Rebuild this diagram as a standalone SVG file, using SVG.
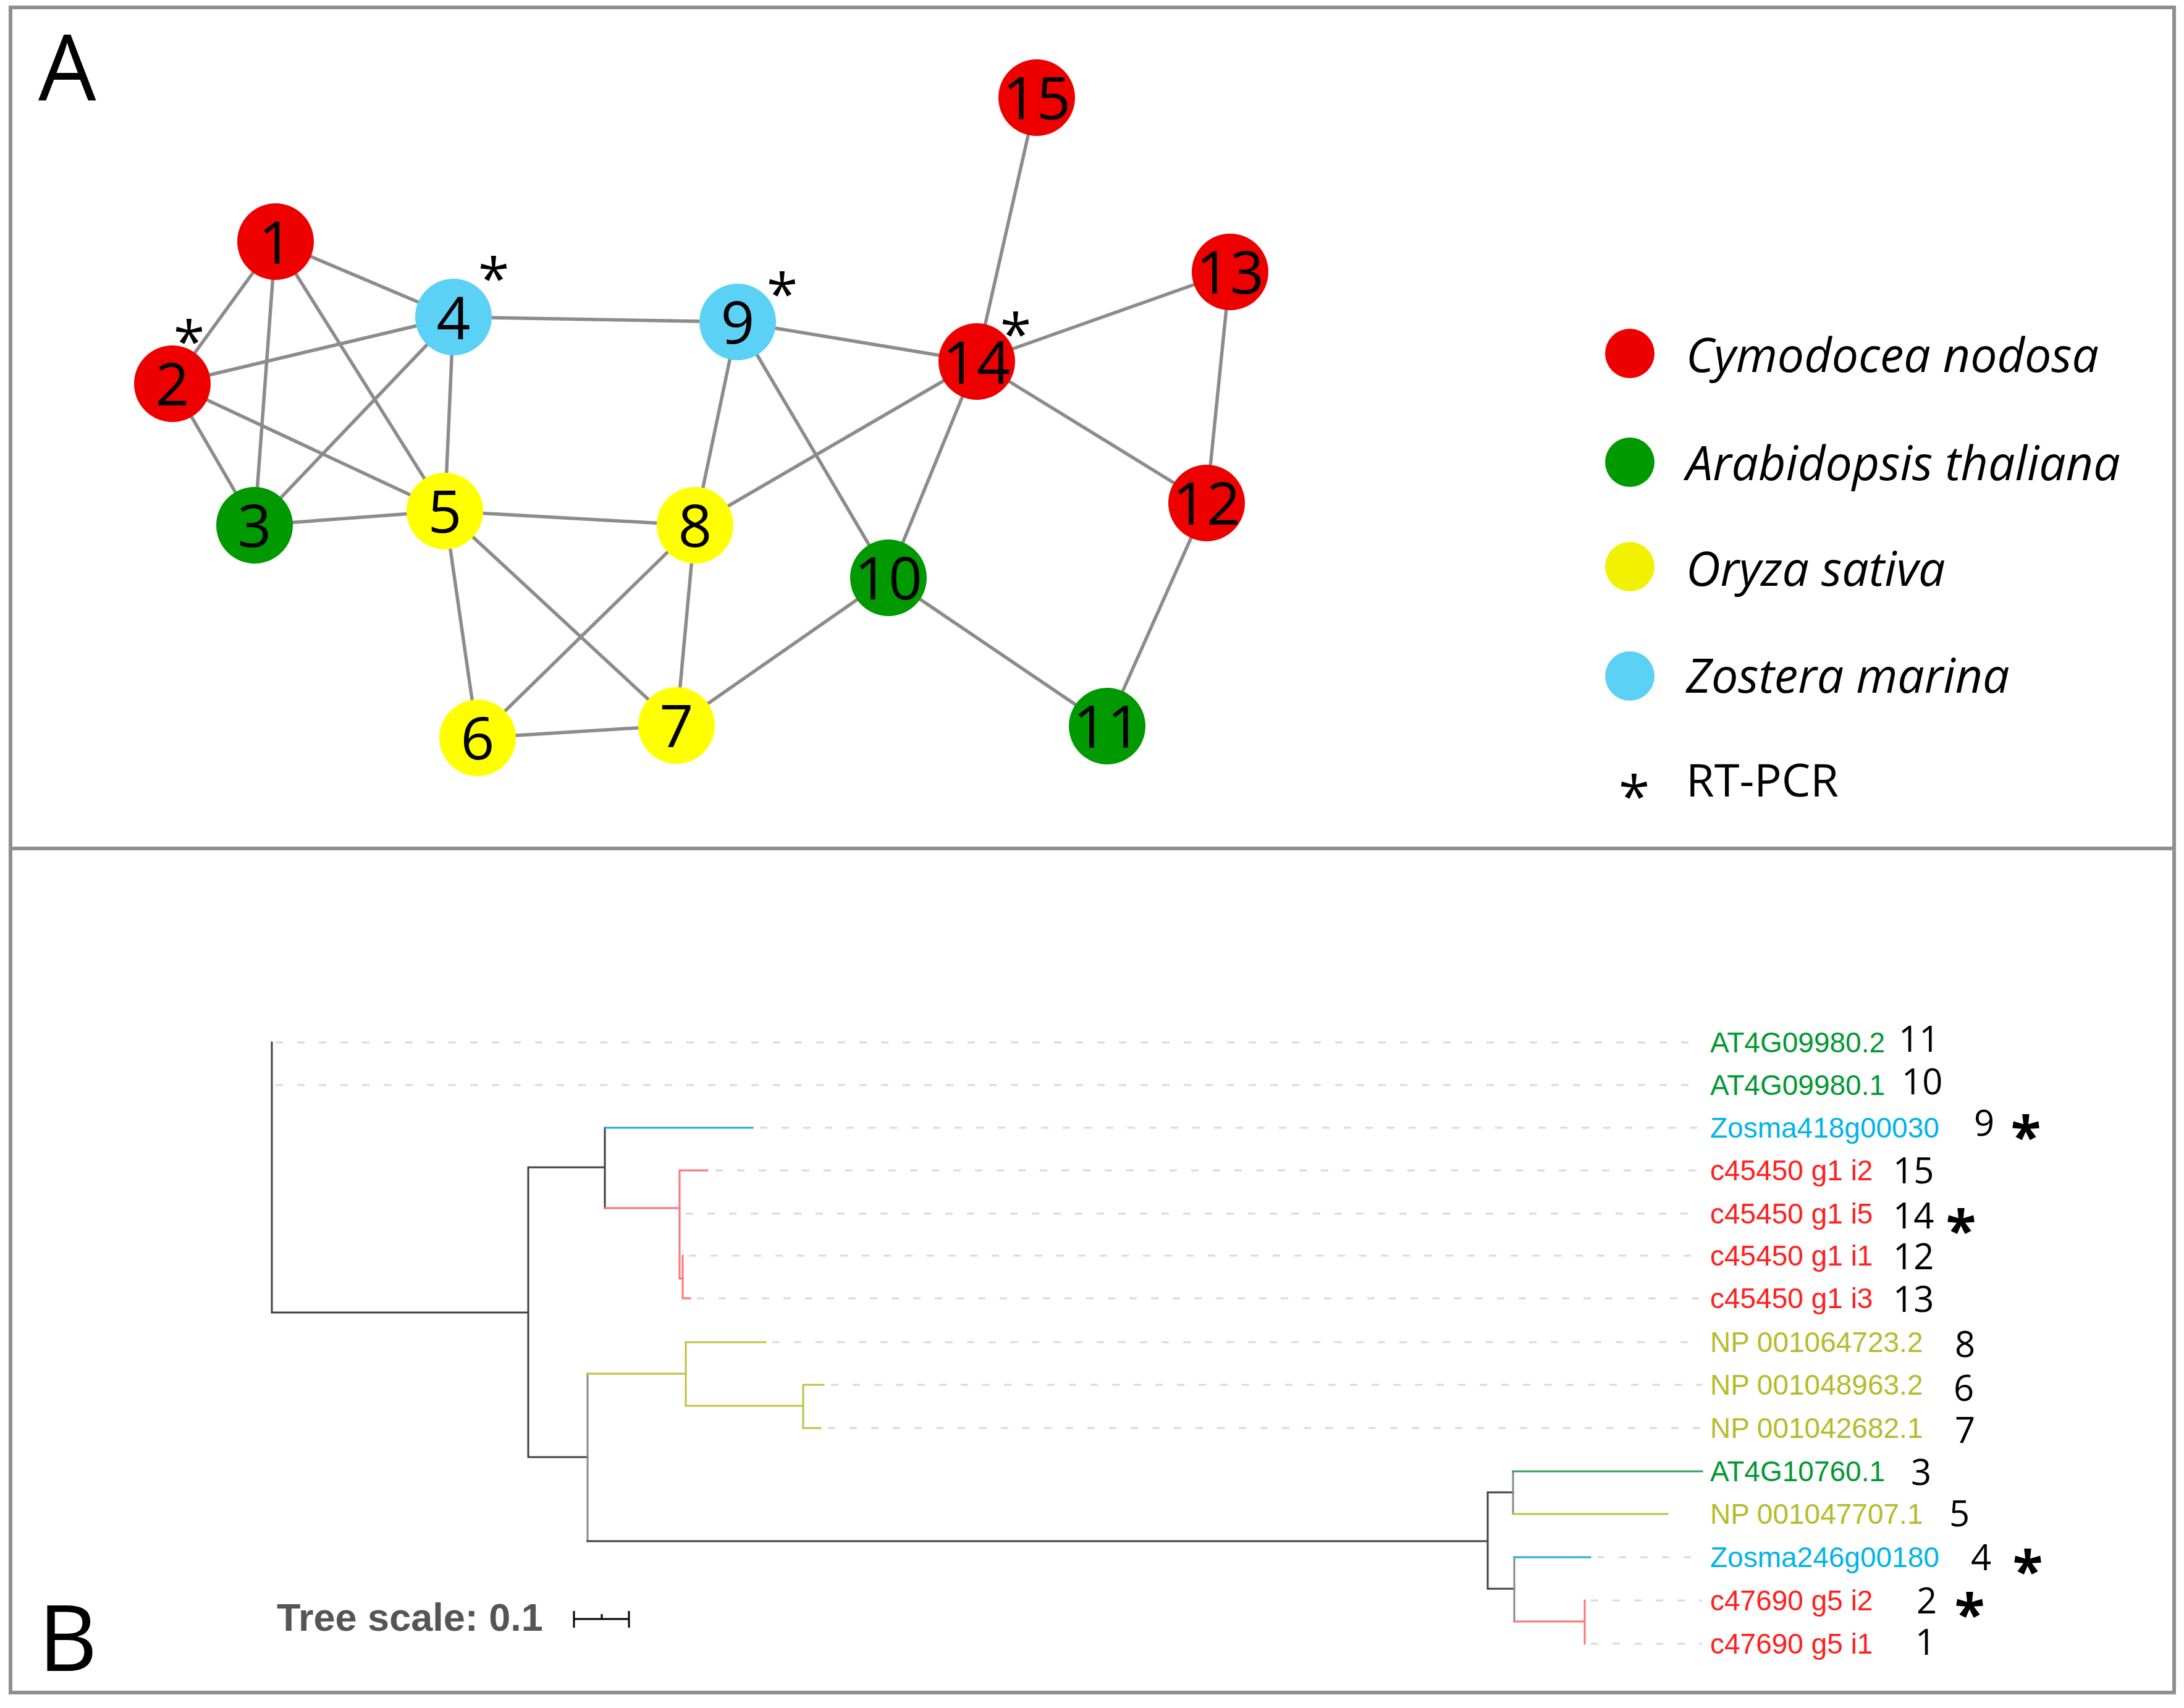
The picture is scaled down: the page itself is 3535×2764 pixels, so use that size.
<svg xmlns="http://www.w3.org/2000/svg" width="3535" height="2764" viewBox="0 0 3535 2764">
<style>
.frame{fill:none;stroke:#8f8f8f;stroke-width:6}
.edge{stroke:#8c8c8c;stroke-width:5.5;fill:none}
.nred{fill:#ee0000}.ngreen{fill:#009900}.nyellow{fill:#ffff00}.nblue{fill:#5bd1f6}
.ntxt{font-family:"Open Sans",sans-serif;font-size:96px;text-anchor:middle;fill:#000}
.ast{font-family:"Open Sans",sans-serif;font-size:92px;text-anchor:middle;fill:#000}
.astb{font-family:"Open Sans",sans-serif;font-size:90px;font-weight:bold;text-anchor:middle;fill:#000}
.leg{font-family:"Open Sans",sans-serif;font-size:77px;font-style:italic;fill:#000}
.legn{font-family:"Open Sans",sans-serif;font-size:74px;fill:#000}
.panel{font-family:"Open Sans",sans-serif;font-size:148px;fill:#000}
.lab{font-family:"Liberation Sans",Arial,sans-serif;font-size:46px}
.num{font-family:"Open Sans",sans-serif;font-size:58px;fill:#000}
.dash{stroke:#d9d9d9;stroke-width:3;stroke-dasharray:12 23;fill:none}
.br{fill:none;stroke-width:3;stroke-linecap:square}
.bk{stroke:#404040}.gy{stroke:#8a8a8a}.bl{stroke:#22aad8}.rd{stroke:#ff7272}.ol{stroke:#bcc240}.gr{stroke:#3a9c5a}
.cg{fill:#009933}.cb{fill:#00b4e8}.cr{fill:#ff2020}.co{fill:#b4bc2c}
</style>
<rect class="frame" x="17" y="12" width="3502" height="2727"/>
<line class="frame" x1="17" y1="1373" x2="3519" y2="1373"/>
<text class="panel" x="62" y="163">A</text>
<text class="panel" x="62" y="2704">B</text>

<g id="connectors">
<line class="edge" x1="446" y1="391" x2="279" y2="621"/>
<line class="edge" x1="446" y1="391" x2="412" y2="850"/>
<line class="edge" x1="446" y1="391" x2="734" y2="513"/>
<line class="edge" x1="446" y1="391" x2="720" y2="827"/>
<line class="edge" x1="279" y1="621" x2="734" y2="513"/>
<line class="edge" x1="279" y1="621" x2="412" y2="850"/>
<line class="edge" x1="279" y1="621" x2="720" y2="827"/>
<line class="edge" x1="412" y1="850" x2="734" y2="513"/>
<line class="edge" x1="412" y1="850" x2="720" y2="827"/>
<line class="edge" x1="734" y1="513" x2="720" y2="827"/>
<line class="edge" x1="734" y1="513" x2="1194" y2="521"/>
<line class="edge" x1="720" y1="827" x2="1125" y2="850"/>
<line class="edge" x1="720" y1="827" x2="773" y2="1194"/>
<line class="edge" x1="720" y1="827" x2="1095" y2="1174"/>
<line class="edge" x1="1125" y1="850" x2="1194" y2="521"/>
<line class="edge" x1="1125" y1="850" x2="773" y2="1194"/>
<line class="edge" x1="1125" y1="850" x2="1095" y2="1174"/>
<line class="edge" x1="1125" y1="850" x2="1581" y2="585"/>
<line class="edge" x1="773" y1="1194" x2="1095" y2="1174"/>
<line class="edge" x1="1095" y1="1174" x2="1438" y2="935"/>
<line class="edge" x1="1194" y1="521" x2="1581" y2="585"/>
<line class="edge" x1="1194" y1="521" x2="1438" y2="935"/>
<line class="edge" x1="1438" y1="935" x2="1581" y2="585"/>
<line class="edge" x1="1438" y1="935" x2="1792" y2="1175"/>
<line class="edge" x1="1581" y1="585" x2="1678" y2="158"/>
<line class="edge" x1="1581" y1="585" x2="1991" y2="440"/>
<line class="edge" x1="1581" y1="585" x2="1953" y2="814"/>
<line class="edge" x1="1991" y1="440" x2="1953" y2="814"/>
<line class="edge" x1="1953" y1="814" x2="1792" y2="1175"/>
</g>

<g id="node1"><circle class="nred" cx="446" cy="391" r="62"/><text class="ntxt" x="446" y="427">1</text></g>
<g id="node2"><circle class="nred" cx="279" cy="621" r="62"/><text class="ntxt" x="279" y="656">2</text><text class="ast" x="306" y="586">*</text></g>
<g id="node3"><circle class="ngreen" cx="412" cy="850" r="62"/><text class="ntxt" x="412" y="885">3</text></g>
<g id="node4"><circle class="nblue" cx="734" cy="513" r="62"/><text class="ntxt" x="734" y="549">4</text><text class="ast" x="799" y="484">*</text></g>
<g id="node5"><circle class="nyellow" cx="720" cy="827" r="62"/><text class="ntxt" x="720" y="862">5</text></g>
<g id="node6"><circle class="nyellow" cx="773" cy="1194" r="62"/><text class="ntxt" x="773" y="1229">6</text></g>
<g id="node7"><circle class="nyellow" cx="1095" cy="1174" r="62"/><text class="ntxt" x="1095" y="1209">7</text></g>
<g id="node8"><circle class="nyellow" cx="1125" cy="850" r="62"/><text class="ntxt" x="1125" y="885">8</text></g>
<g id="node9"><circle class="nblue" cx="1194" cy="521" r="62"/><text class="ntxt" x="1194" y="556">9</text><text class="ast" x="1266" y="509">*</text></g>
<g id="node10"><circle class="ngreen" cx="1438" cy="935" r="62"/><text class="ntxt" x="1438" y="970">10</text></g>
<g id="node11"><circle class="ngreen" cx="1792" cy="1175" r="62"/><text class="ntxt" x="1792" y="1210">11</text></g>
<g id="node12"><circle class="nred" cx="1953" cy="814" r="62"/><text class="ntxt" x="1953" y="849">12</text></g>
<g id="node13"><circle class="nred" cx="1991" cy="440" r="62"/><text class="ntxt" x="1991" y="475">13</text></g>
<g id="node14"><circle class="nred" cx="1581" cy="585" r="62"/><text class="ntxt" x="1581" y="621">14</text><text class="ast" x="1644" y="574">*</text></g>
<g id="node15"><circle class="nred" cx="1678" cy="158" r="62"/><text class="ntxt" x="1678" y="193">15</text></g>

<g id="legend">
<circle class="nred" cx="2638" cy="572" r="40"/><text class="leg" x="2729" y="602">Cymodocea nodosa</text>
<circle class="ngreen" cx="2638" cy="748" r="40"/><text class="leg" x="2729" y="777">Arabidopsis thaliana</text>
<circle style="fill:#f2f200" cx="2638" cy="917" r="40"/><text class="leg" x="2729" y="948">Oryza sativa</text>
<circle class="nblue" cx="2638" cy="1094" r="40"/><text class="leg" x="2729" y="1121">Zostera marina</text>
<text class="ast" x="2645" y="1322">*</text><text class="legn" x="2729" y="1289">RT-PCR</text>
</g>

<g id="tree-dashes">
<line class="dash" x1="446" y1="1687" x2="2755" y2="1687"/>
<line class="dash" x1="446" y1="1756" x2="2755" y2="1756"/>
<line class="dash" x1="1230" y1="1825" x2="2755" y2="1825"/>
<line class="dash" x1="1158" y1="1894" x2="2755" y2="1894"/>
<line class="dash" x1="1110" y1="1964" x2="2755" y2="1964"/>
<line class="dash" x1="1115" y1="2032" x2="2755" y2="2032"/>
<line class="dash" x1="1128" y1="2101" x2="2755" y2="2101"/>
<line class="dash" x1="1250" y1="2172" x2="2755" y2="2172"/>
<line class="dash" x1="1345" y1="2241" x2="2755" y2="2241"/>
<line class="dash" x1="1340" y1="2311" x2="2755" y2="2311"/>
<line class="dash" x1="2585" y1="2520" x2="2755" y2="2520"/>
<line class="dash" x1="2575" y1="2590" x2="2755" y2="2590"/>
<line class="dash" x1="2575" y1="2660" x2="2755" y2="2660"/>
</g>

<g id="tree-branches">
<path class="br bk" d="M440 1687V2124H855M855 1889V2358M855 1889H979M855 2358H951M979 1825V1955"/>
<path class="br bl" d="M979 1825H1218"/>
<path class="br rd" d="M979 1955H1100M1100 1894V2069M1100 1894H1145M1100 2069H1105M1105 2032V2101M1105 2101H1117"/>
<path class="br gy" d="M951 2223V2494"/>
<path class="br ol" d="M951 2223H1110M1110 2172V2275M1110 2172H1239M1110 2275H1300M1300 2241V2311M1300 2241H1333M1300 2311H1328"/>
<path class="br bk" d="M951 2494H2408M2408 2415V2571M2408 2415H2449M2408 2571H2451"/>
<path class="br gy" d="M2449 2381V2450M2451 2520V2624"/>
<path class="br gr" d="M2449 2381H2755"/>
<path class="br ol" d="M2449 2450H2699"/>
<path class="br bl" d="M2451 2520H2574"/>
<path class="br rd" d="M2451 2624H2565M2565 2590V2660"/>
</g>

<g id="tree-labels">
<text class="lab cg" x="2768" y="1703">AT4G09980.2</text>
<text class="lab cg" x="2768" y="1772">AT4G09980.1</text>
<text class="lab cb" x="2768" y="1841">Zosma418g00030</text>
<text class="lab cr" x="2768" y="1910">c45450 g1 i2</text>
<text class="lab cr" x="2768" y="1980">c45450 g1 i5</text>
<text class="lab cr" x="2768" y="2048">c45450 g1 i1</text>
<text class="lab cr" x="2768" y="2117">c45450 g1 i3</text>
<text class="lab co" x="2768" y="2188">NP 001064723.2</text>
<text class="lab co" x="2768" y="2257">NP 001048963.2</text>
<text class="lab co" x="2768" y="2327">NP 001042682.1</text>
<text class="lab cg" x="2768" y="2397">AT4G10760.1</text>
<text class="lab co" x="2768" y="2466">NP 001047707.1</text>
<text class="lab cb" x="2768" y="2536">Zosma246g00180</text>
<text class="lab cr" x="2768" y="2606">c47690 g5 i2</text>
<text class="lab cr" x="2768" y="2676">c47690 g5 i1</text>
</g>

<g id="tree-numbers">
<text class="num" x="3073" y="1702">11</text>
<text class="num" x="3078" y="1771">10</text>
<text class="num" x="3195" y="1838">9</text>
<text class="num" x="3064" y="1915">15</text>
<text class="num" x="3064" y="1988">14</text>
<text class="num" x="3064" y="2054">12</text>
<text class="num" x="3064" y="2123">13</text>
<text class="num" x="3164" y="2196">8</text>
<text class="num" x="3162" y="2267">6</text>
<text class="num" x="3164" y="2335">7</text>
<text class="num" x="3093" y="2403">3</text>
<text class="num" x="3155" y="2470">5</text>
<text class="num" x="3190" y="2541">4</text>
<text class="num" x="3102" y="2611">2</text>
<text class="num" x="3100" y="2678">1</text>
<text class="astb" x="3279" y="1871">*</text>
<text class="astb" x="3174" y="2023">*</text>
<text class="astb" x="3282" y="2574">*</text>
<text class="astb" x="3188" y="2644">*</text>
</g>

<g id="scale">
<text x="448" y="2639" style="font-family:'Liberation Sans',Arial,sans-serif;font-size:63px;font-weight:bold;fill:#555">Tree scale: 0.1</text>
<path d="M929 2620H1018M929 2607V2634M1018 2607V2634M974 2612V2620" style="fill:none;stroke:#000;stroke-width:3"/>
</g>
</svg>
